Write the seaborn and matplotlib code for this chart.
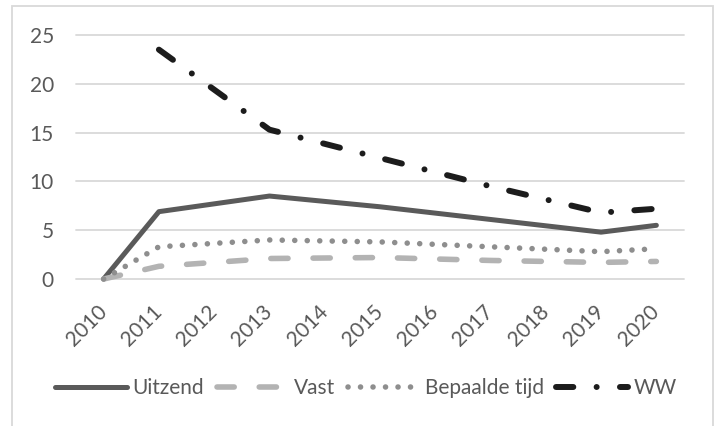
import numpy as np
import pandas as pd
import matplotlib
matplotlib.use("Agg")
import matplotlib.pyplot as plt
import seaborn as sns
from matplotlib.patches import Rectangle

nan = np.nan
years = [2010, 2011, 2012, 2013, 2014, 2015, 2016, 2017, 2018, 2019, 2020]
uitzend = [0.0, 6.9, nan, 8.5, nan, 7.4, nan, 6.1, nan, 4.8, 5.5]
vast = [0.0, 1.3, nan, 2.1, nan, 2.2, nan, 1.9, nan, 1.7, 1.8]
bepaalde_tijd = [0.0, 3.3, nan, 4.0, nan, 3.8, nan, 3.3, nan, 2.8, 3.1]
ww = [nan, 23.5, nan, 15.3, nan, 12.4, nan, 9.5, nan, 6.8, 7.2]
series_names = ["Uitzend", "Vast", "Bepaalde tijd", "WW"]
y_ticks = [0, 5, 10, 15, 20, 25]

sns.set_theme(style="white")
plt.rcParams["font.family"] = ["Lato", "DejaVu Sans"]

TXT = "#595959"
W, H = 715, 426
fig = plt.figure(figsize=(W / 100, H / 100), dpi=100)
ax = fig.add_axes([76 / W, 1 - 279 / H, (684 - 76) / W, (279 - 35) / H])

df = pd.DataFrame({"year": years, "Uitzend": uitzend, "Vast": vast,
                   "Bepaalde tijd": bepaalde_tijd, "WW": ww})

styles = {
    "Uitzend": dict(color="#5a5a5a", linewidth=3.6, linestyle="-"),
    "Vast": dict(color="#b3b3b3", linewidth=4.0, linestyle=(0, (3.1, 4.5))),
    "Bepaalde tijd": dict(color="#8e8e8e", linewidth=4.0, linestyle=(0, (0.01, 2.24))),
    "WW": dict(color="#1c1c1c", linewidth=4.3, linestyle=(0, (2.9, 3.9, 0.01, 3.9))),
}

for name in series_names:
    sub = df[["year", name]].dropna()
    sns.lineplot(data=sub, x="year", y=name, ax=ax, label=name,
                 solid_capstyle="round", dash_capstyle="round",
                 solid_joinstyle="round", **styles[name])

for ln in ax.lines:
    ln.set_clip_on(False)

ax.set_xlim(2009.5, 2020.5)
ax.set_ylim(0, 25)
ax.set_yticks(y_ticks)
ax.set_xticks(years)
ax.set_xticklabels([str(y) for y in years])
ax.set_xlabel("")
ax.set_ylabel("")
for s in ax.spines.values():
    s.set_visible(False)
ax.grid(axis="y", color="#d9d9d9", linewidth=1.3)
ax.grid(axis="x", visible=False)
ax.set_axisbelow(True)
for gl in ax.get_ygridlines():
    gl.set_clip_on(False)

ax.tick_params(axis="y", length=0, pad=16, labelsize=15, labelcolor=TXT)
ax.tick_params(axis="x", length=0, pad=21, labelsize=15, labelcolor=TXT)
for lab in ax.get_xticklabels():
    lab.set_rotation(45)
    lab.set_ha("right")
    lab.set_va("center")
    lab.set_rotation_mode("anchor")

handles, labels = ax.get_legend_handles_labels()
leg = ax.legend(handles, labels, loc="center", ncol=4, frameon=False,
                bbox_to_anchor=(366 / W, 1 - 388 / H), bbox_transform=fig.transFigure,
                fontsize=15, handlelength=3.45, handletextpad=0.25, columnspacing=0.6,
                borderaxespad=0, borderpad=0)
for t in leg.get_texts():
    t.set_color(TXT)

fig.patches.append(Rectangle((12 / W, -0.05), (713 - 12) / W, 1.05 - 6 / H,
                             transform=fig.transFigure, fill=False,
                             edgecolor="#d9d9d9", linewidth=1.3))

fig.savefig("out.png", dpi=100, facecolor="white")
